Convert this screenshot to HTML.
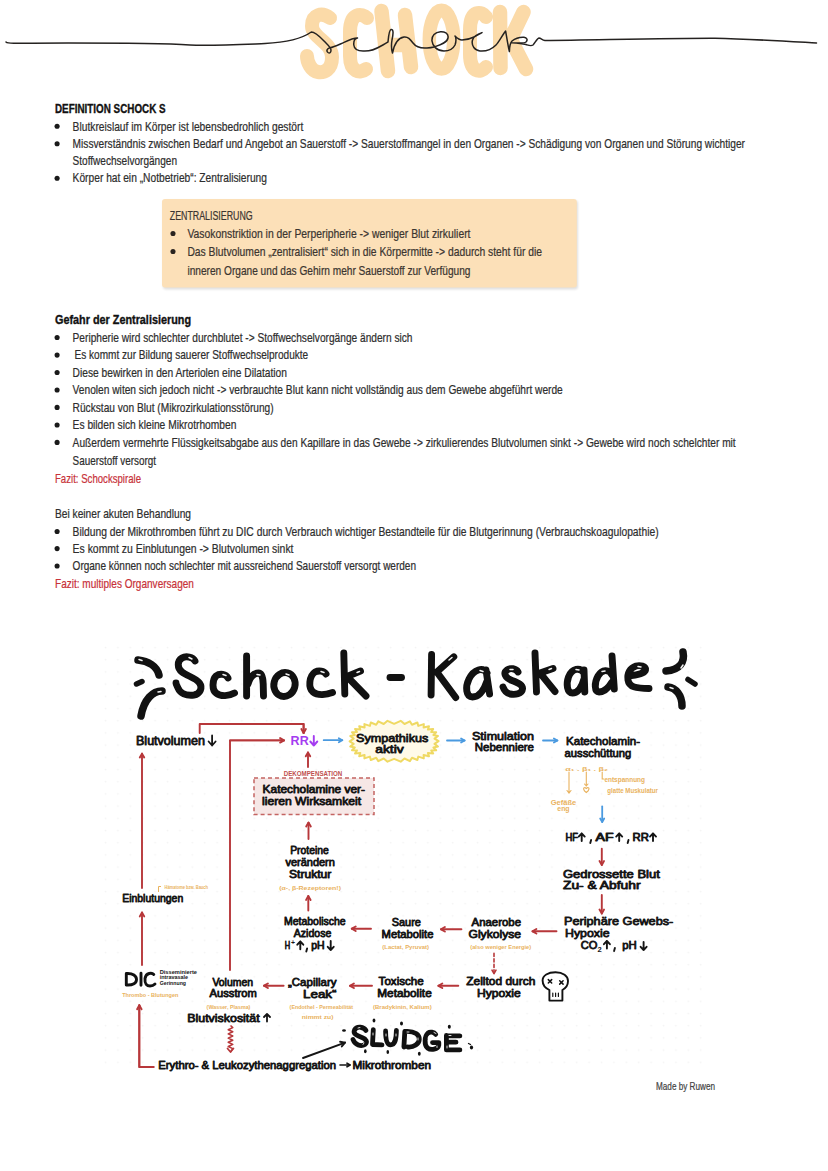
<!DOCTYPE html>
<html><head><meta charset="utf-8"><title>Schock</title>
<style>html,body{margin:0;padding:0;background:#fff;}svg{display:block;}text{font-family:"Liberation Sans", sans-serif;}</style>
</head><body>
<svg width="828" height="1171" viewBox="0 0 828 1171">
<rect width="828" height="1171" fill="#fff"/>

<g fill="none" stroke="#FBDAA8" stroke-linecap="round" stroke-linejoin="round">
 <path stroke-width="14" d="M330 18 C322 12 312 14 312 26 C312 38 332 42 332 57 C332 70 324 73 318 72 C311 71 307 62 307 56"/>
 <path stroke-width="14" d="M367 18 C362 13 350 12 350 32 L350 56 C350 72 360 74 366 69"/>
 <path stroke-width="14.5" d="M381.5 11 L388 71 M405 15 L411 67 M385 45 L408 45"/>
 <ellipse stroke-width="13.5" cx="441.5" cy="39.6" rx="12.2" ry="29.3"/>
 <path stroke-width="14" d="M486 17 C482 11 470 9 470 30 L470 54 C470 72 480 74 486 67"/>
 <path stroke-width="14.5" d="M500 12 L500.5 68 M523.5 12 L510.5 39 L526 69"/>
</g>
<path fill="none" stroke="#252220" stroke-width="1.5" stroke-linecap="round" stroke-linejoin="round" d="M6 42 C7 43 9 43.3 15 43.2 C80 43 150 42.5 190 45 C210 46 240 44.5 265 43.5 C285 42.5 300 40 311.3 32 C316 32 321 38 326 43 C329 46 331 48 331 50 C331 53 329.5 53.5 328 52.5 C326 51 327 48.5 330 47.8 C334 47 339 44.5 344 42.4 C349 40 354 38 357.5 38 C355 38.5 353.5 41 353.8 45 C354.2 49 358 51 363 51 C369 51.5 376 49 381 46 C384 44.5 386 43 388 42 C388.5 37 389 30 391 29.5 C393.5 29 393.5 33 392 40 C391 46 391.5 50 392.5 53 C394 45 398 38 404 37 C408 36.5 410 39 413 43 C416 47 421 48.5 427 48 C430 47.8 432 47.5 434 47 C440 45 447 43 448 38 C449 33 444 31.5 440.5 31.7 C435 32 431.5 36 432 41 C432.5 46 437 51 444 51 C449 51 453 49 455 45 C456.5 41 456 37 455 36 C457 38 459 40 462 40 C466 40 470 39 474 37 C478 35 481 33 482 32.6 C479 33.5 474 35 472.5 40 C471 46 475 50.5 480 51 C486 51.5 492 49 496 45 C499 42 503 34 505.6 31 C506.5 36 508 46 509.4 51.6 C509.5 47 510 43 512 41 C515 38.5 520 37 524 37.2 C527 37.5 528 40 526 42 C524 43.5 516 43 512 42.7 C517 43 522 43.5 526 44.5 C529 45.5 531 46.5 533 45 C535 43 537 38.5 539 38 C541 38 542 40 545 40.5 C600 39.8 680 38 715 38.2 C750 39 790 41.5 816.5 43"/>

<text x="55" y="112.8" font-size="12.4" font-weight="bold" fill="#111" stroke="#111" stroke-width="0.35" textLength="110.6" lengthAdjust="spacingAndGlyphs">DEFINITION SCHOCK S</text>
<circle cx="57.1" cy="126.3" r="2.55" fill="#1a1a1a"/>
<text x="72.6" y="130.5" font-size="12.6" fill="#2e2e2e" stroke="#2e2e2e" stroke-width="0.22" textLength="230.7" lengthAdjust="spacingAndGlyphs">Blutkreislauf im Körper ist lebensbedrohlich gestört</text>
<circle cx="57.1" cy="143.8" r="2.55" fill="#1a1a1a"/>
<text x="72.6" y="148" font-size="12.6" fill="#2e2e2e" stroke="#2e2e2e" stroke-width="0.22" textLength="672.4" lengthAdjust="spacingAndGlyphs">Missverständnis zwischen Bedarf und Angebot an Sauerstoff -&gt; Sauerstoffmangel in den Organen -&gt; Schädigung von Organen und Störung wichtiger</text>
<text x="72.6" y="165.2" font-size="12.6" fill="#2e2e2e" stroke="#2e2e2e" stroke-width="0.22" textLength="104.4" lengthAdjust="spacingAndGlyphs">Stoffwechselvorgängen</text>
<circle cx="57.1" cy="178.2" r="2.55" fill="#1a1a1a"/>
<text x="72.6" y="182.4" font-size="12.6" fill="#2e2e2e" stroke="#2e2e2e" stroke-width="0.22" textLength="194.4" lengthAdjust="spacingAndGlyphs">Körper hat ein „Notbetrieb“: Zentralisierung</text>
<defs><filter id="sh" x="-5%" y="-10%" width="110%" height="130%"><feGaussianBlur stdDeviation="1.2"/></filter></defs>
<rect x="163" y="200.5" width="415" height="89" rx="3" fill="#000" opacity="0.12" filter="url(#sh)"/>
<rect x="162" y="199" width="414.8" height="88.5" rx="3" fill="#FCE0B8"/>
<text x="169.8" y="219.5" font-size="12.6" fill="#3b3530" stroke="#3b3530" stroke-width="0.22" textLength="82.9" lengthAdjust="spacingAndGlyphs">ZENTRALISIERUNG</text>
<circle cx="173" cy="233.5" r="2.55" fill="#2a2420"/>
<text x="187.4" y="237.6" font-size="12.6" fill="#3b3530" stroke="#3b3530" stroke-width="0.22" textLength="283.1" lengthAdjust="spacingAndGlyphs">Vasokonstriktion in der Perperipherie -&gt; weniger Blut zirkuliert</text>
<circle cx="173" cy="251.5" r="2.55" fill="#2a2420"/>
<text x="187.4" y="255.7" font-size="12.6" fill="#3b3530" stroke="#3b3530" stroke-width="0.22" textLength="354.6" lengthAdjust="spacingAndGlyphs">Das Blutvolumen „zentralisiert“ sich in die Körpermitte -&gt; dadurch steht für die</text>
<text x="187.4" y="275" font-size="12.6" fill="#3b3530" stroke="#3b3530" stroke-width="0.22" textLength="283.1" lengthAdjust="spacingAndGlyphs">inneren Organe und das Gehirn mehr Sauerstoff zur Verfügung</text>
<text x="55" y="323.8" font-size="12.4" font-weight="bold" fill="#111" stroke="#111" stroke-width="0.35" textLength="136.0" lengthAdjust="spacingAndGlyphs">Gefahr der Zentralisierung</text>
<circle cx="57.1" cy="337.5" r="2.55" fill="#1a1a1a"/>
<text x="72.6" y="341.7" font-size="12.6" fill="#2e2e2e" stroke="#2e2e2e" stroke-width="0.22" textLength="339.9" lengthAdjust="spacingAndGlyphs">Peripherie wird schlechter durchblutet -&gt; Stoffwechselvorgänge ändern sich</text>
<circle cx="57.1" cy="355.1" r="2.55" fill="#1a1a1a"/>
<text x="74.5" y="359.3" font-size="12.6" fill="#2e2e2e" stroke="#2e2e2e" stroke-width="0.22" textLength="233.7" lengthAdjust="spacingAndGlyphs">Es kommt zur Bildung sauerer Stoffwechselprodukte</text>
<circle cx="57.1" cy="372.5" r="2.55" fill="#1a1a1a"/>
<text x="72.6" y="376.7" font-size="12.6" fill="#2e2e2e" stroke="#2e2e2e" stroke-width="0.22" textLength="214.3" lengthAdjust="spacingAndGlyphs">Diese bewirken in den Arteriolen eine Dilatation</text>
<circle cx="57.1" cy="390.0" r="2.55" fill="#1a1a1a"/>
<text x="72.6" y="394.2" font-size="12.6" fill="#2e2e2e" stroke="#2e2e2e" stroke-width="0.22" textLength="490.2" lengthAdjust="spacingAndGlyphs">Venolen witen sich jedoch nicht -&gt; verbrauchte Blut kann nicht vollständig aus dem Gewebe abgeführt werde</text>
<circle cx="57.1" cy="407.40000000000003" r="2.55" fill="#1a1a1a"/>
<text x="72.6" y="411.6" font-size="12.6" fill="#2e2e2e" stroke="#2e2e2e" stroke-width="0.22" textLength="201.0" lengthAdjust="spacingAndGlyphs">Rückstau von Blut (Mikrozirkulationsstörung)</text>
<circle cx="57.1" cy="425.0" r="2.55" fill="#1a1a1a"/>
<text x="72.6" y="429.2" font-size="12.6" fill="#2e2e2e" stroke="#2e2e2e" stroke-width="0.22" textLength="163.8" lengthAdjust="spacingAndGlyphs">Es bilden sich kleine Mikrotrhomben</text>
<circle cx="57.1" cy="442.40000000000003" r="2.55" fill="#1a1a1a"/>
<text x="72.6" y="446.6" font-size="12.6" fill="#2e2e2e" stroke="#2e2e2e" stroke-width="0.22" textLength="663.1" lengthAdjust="spacingAndGlyphs">Außerdem vermehrte Flüssigkeitsabgabe aus den Kapillare in das Gewebe -&gt; zirkulierendes Blutvolumen sinkt -&gt; Gewebe wird noch schelchter mit</text>
<text x="72.6" y="464.7" font-size="12.6" fill="#2e2e2e" stroke="#2e2e2e" stroke-width="0.22" textLength="83.4" lengthAdjust="spacingAndGlyphs">Sauerstoff versorgt</text>
<text x="55" y="483.3" font-size="12.6" fill="#c8323a" stroke="#c8323a" stroke-width="0.22" textLength="86.0" lengthAdjust="spacingAndGlyphs">Fazit: Schockspirale</text>
<text x="55" y="517.8" font-size="12.6" fill="#2e2e2e" stroke="#2e2e2e" stroke-width="0.22" textLength="136.0" lengthAdjust="spacingAndGlyphs">Bei keiner akuten Behandlung</text>
<circle cx="57.1" cy="531.5" r="2.55" fill="#1a1a1a"/>
<text x="72.6" y="535.7" font-size="12.6" fill="#2e2e2e" stroke="#2e2e2e" stroke-width="0.22" textLength="586.0" lengthAdjust="spacingAndGlyphs">Bildung der Mikrothromben führt zu DIC durch Verbrauch wichtiger Bestandteile für die Blutgerinnung (Verbrauchskoagulopathie)</text>
<circle cx="57.1" cy="548.5999999999999" r="2.55" fill="#1a1a1a"/>
<text x="72.6" y="552.8" font-size="12.6" fill="#2e2e2e" stroke="#2e2e2e" stroke-width="0.22" textLength="220.9" lengthAdjust="spacingAndGlyphs">Es kommt zu Einblutungen -&gt; Blutvolumen sinkt</text>
<circle cx="57.1" cy="566.0" r="2.55" fill="#1a1a1a"/>
<text x="72.6" y="570.2" font-size="12.6" fill="#2e2e2e" stroke="#2e2e2e" stroke-width="0.22" textLength="343.4" lengthAdjust="spacingAndGlyphs">Organe können noch schlechter mit aussreichend Sauerstoff versorgt werden</text>
<text x="55" y="587.9" font-size="12.6" fill="#c8323a" stroke="#c8323a" stroke-width="0.22" textLength="138.9" lengthAdjust="spacingAndGlyphs">Fazit: multiples Organversagen</text>
<text x="656" y="1089.6" font-size="10.6" fill="#444" stroke="#444" stroke-width="0.22" textLength="59.0" lengthAdjust="spacingAndGlyphs">Made by Ruwen</text>
<defs><pattern id="dg" x="104" y="646" width="12.4" height="12.2" patternUnits="userSpaceOnUse"><circle cx="1.5" cy="1.5" r="0.9" fill="#f3f3f3"/></pattern></defs>
<rect x="104" y="646" width="598" height="426" fill="url(#dg)"/>
<g fill="none" stroke="#111" stroke-width="6.9" stroke-linecap="round" stroke-linejoin="round"><path d="M195 661 C193 657 186 655.5 182 658 C177 661 177 668 182 672 C187 676 196 678 199.5 683 C203 688 200 694 194 695 C186 696 180 693 178 688 C177 686 176 684 176 683"/><path d="M228 678 C226 674 220 673 216 676 C212 680 212 690 216 693 C221 697 229 696 234.5 693"/><path d="M246.6 656 L246.6 696 M248 684 C250 677 254 673 258.5 673 C262 673 263 678 263.2 684 L263.5 696"/><ellipse cx="284.5" cy="684.5" rx="10.6" ry="12" transform="rotate(15 284.5 684.5)"/><path d="M326 674 C324 671 319 670 315 672 C309 676 308 688 313 692 C318 696 327 694.5 332.5 692.5"/><path d="M343.8 653 L344.8 694 M360.5 671 L347 676.5 L366 696"/><path d="M390 677.5 L401.5 677.5"/><path d="M431.6 654.5 L431.1 695 M453.8 656.8 L436.8 672 L455.7 697.5"/><path d="M487 673 C483 667 474 669 469 679 C465 687 466 697 472.5 697 C479 697 484 690 487 681 M486 670 L489.6 694"/><path d="M518 672 C516 668.5 510 667.5 507 670 C503 673 505 678 512 680.5 C519 683 523 685 522.5 689 C522 694 515 695 510 694 C506 693 504 690 503 687"/><path d="M535 653 L536.5 692 M553 668.5 L540 673 L555 691.5"/><path d="M584 673 C580 667 572 668 568.5 677 C566 684 567 693 572.5 693 C578 693 582 686 584 679 M584 670 L584.8 692"/><path d="M612 656 L614.3 689 M612 675 C609 669 602 669 598 676 C594 683 594.5 692 599 692 C604 692 609 687 612 682"/><path d="M631.5 675.5 C637 675 645 673 645.5 670 C646 666 640 665 636 666 C630 668 627 673 628 680 C629 687 636 688.5 649 688.5"/></g>
<g fill="none" stroke="#111" stroke-linecap="round"><path d="M138 660 C148 661 157 666 159 675" stroke-width="7.5"/><path d="M136.5 684 L142 681.5" stroke-width="5.5"/><path d="M162 691 C153 691 144 699 141 716" stroke-width="7.5"/><path d="M683 652 C685 662 680 670 666 671" stroke-width="7.5"/><path d="M688 679.5 L695 684" stroke-width="5.5"/><path d="M668 687 C676 688 682 695 682 706" stroke-width="7.5"/></g>
<g fill="none" stroke="#fff" stroke-width="1.5" stroke-linecap="round" opacity="0.95"><path d="M139 659.5 L142 660.5"/><path d="M189 657.5 L192 659"/><path d="M223 674.5 L226 675.5"/><path d="M257 674.5 L260 675"/><path d="M286 674 L289 675"/><path d="M321 671.5 L324 672.5"/><path d="M357 672.5 L359.5 671.5"/><path d="M449 660 L452 657.5"/><path d="M480 670.5 L483 671.5"/><path d="M510 669.5 L513 669.5"/><path d="M549 669.5 L551.5 668.5"/><path d="M576 669.5 L579 670"/><path d="M602 671.5 L605 671"/><path d="M638 666.5 L641 667"/><path d="M681 668 L683 665"/><path d="M158 692 L161 691.5"/><path d="M670 687.5 L673 688.5"/></g>
<text x="136" y="745.2" font-size="11.96" stroke="#151515" stroke-width="0.8" stroke-linejoin="round" fill="#151515" textLength="68.9" lengthAdjust="spacingAndGlyphs">Blutvolumen</text>
<path d="M212.1 735.5 L212.1 745.5 M208.6 741.5 L212.1 745.5 L215.6 741.5" stroke="#151515" stroke-width="1.8" fill="none" stroke-linecap="round" stroke-linejoin="round"/>
<text x="290.6" y="745" font-size="12.50" font-weight="bold" fill="#A43CF0" textLength="18.1" lengthAdjust="spacingAndGlyphs">RR</text>
<path d="M313.8 736 L313.8 745.5 M310.3 741.5 L313.8 745.5 L317.3 741.5" stroke="#A43CF0" stroke-width="1.9" fill="none" stroke-linecap="round" stroke-linejoin="round"/>
<path d="M199.7 733 L199.7 724 L303.6 724 L303.6 733" stroke="#B7373A" stroke-width="1.9" fill="none" stroke-linejoin="round" stroke-linecap="round"/>
<path d="M303.6 724.0 L303.6 733.0" stroke="#B7373A" stroke-width="1.9" fill="none" stroke-linecap="round"/>
<path d="M301.4 729.1 L303.6 733.0 L305.9 729.1" stroke="#B7373A" stroke-width="1.9" fill="none" stroke-linecap="round" stroke-linejoin="round"/>
<path d="M230 970 L230 740.4 L284 740.4" stroke="#B7373A" stroke-width="1.9" fill="none" stroke-linejoin="round" stroke-linecap="round"/>
<path d="M230.0 740.4 L284.0 740.4" stroke="#B7373A" stroke-width="1.9" fill="none" stroke-linecap="round"/>
<path d="M280.1 742.6 L284.0 740.4 L280.1 738.1" stroke="#B7373A" stroke-width="1.9" fill="none" stroke-linecap="round" stroke-linejoin="round"/>
<path d="M142.0 888.0 L142.0 753.6" stroke="#B7373A" stroke-width="1.9" fill="none" stroke-linecap="round"/>
<path d="M144.2 757.5 L142.0 753.6 L139.8 757.5" stroke="#B7373A" stroke-width="1.9" fill="none" stroke-linecap="round" stroke-linejoin="round"/>
<path d="M308.0 767.0 L308.0 752.4" stroke="#B7373A" stroke-width="1.9" fill="none" stroke-linecap="round"/>
<path d="M310.2 756.3 L308.0 752.4 L305.8 756.3" stroke="#B7373A" stroke-width="1.9" fill="none" stroke-linecap="round" stroke-linejoin="round"/>
<path d="M323.7 740.2 L342.3 740.2" stroke="#4A9AE0" stroke-width="1.8" fill="none" stroke-linecap="round"/>
<path d="M338.8 742.2 L342.3 740.2 L338.8 738.2" stroke="#4A9AE0" stroke-width="1.8" fill="none" stroke-linecap="round" stroke-linejoin="round"/>
<path d="M447.0 740.5 L464.6 740.5" stroke="#4A9AE0" stroke-width="1.8" fill="none" stroke-linecap="round"/>
<path d="M461.1 742.5 L464.6 740.5 L461.1 738.5" stroke="#4A9AE0" stroke-width="1.8" fill="none" stroke-linecap="round" stroke-linejoin="round"/>
<path d="M543.0 740.5 L557.4 740.5" stroke="#4A9AE0" stroke-width="1.8" fill="none" stroke-linecap="round"/>
<path d="M553.9 742.5 L557.4 740.5 L553.9 738.5" stroke="#4A9AE0" stroke-width="1.8" fill="none" stroke-linecap="round" stroke-linejoin="round"/>
<path d="M438.6 741.2 L434.5 743.9 L438.0 746.5 L433.4 747.5 L436.2 750.3 L431.2 750.4 L433.2 753.5 L427.9 752.9 L429.0 756.2 L423.6 755.0 L423.8 758.4 L418.3 756.6 L417.4 760.0 L412.0 757.8 L409.9 761.1 L404.5 758.5 L400.7 761.7 L394.1 758.8 L387.5 761.7 L383.7 758.5 L378.3 761.1 L376.2 757.8 L370.8 760.0 L369.9 756.6 L364.4 758.4 L364.6 755.0 L359.2 756.2 L360.3 752.9 L355.0 753.5 L357.0 750.4 L352.0 750.3 L354.8 747.5 L350.2 746.5 L353.7 743.9 L349.6 741.3 L353.7 738.6 L350.2 736.0 L354.8 735.0 L352.0 732.2 L357.0 732.1 L355.0 729.0 L360.3 729.6 L359.2 726.3 L364.6 727.5 L364.4 724.1 L369.9 725.9 L370.8 722.5 L376.2 724.7 L378.3 721.4 L383.7 724.0 L387.5 720.8 L394.1 723.8 L400.7 720.8 L404.5 724.0 L409.9 721.4 L412.0 724.7 L417.4 722.5 L418.3 725.9 L423.8 724.1 L423.6 727.5 L429.0 726.3 L427.9 729.6 L433.2 729.0 L431.2 732.1 L436.2 732.2 L433.4 735.0 L438.0 736.0 L434.5 738.6Z" fill="#FFFAE8" stroke="#EFD963" stroke-width="2" stroke-linejoin="round"/>
<text x="356" y="742" font-size="11.50" stroke="#151515" stroke-width="0.8" stroke-linejoin="round" fill="#151515" textLength="72.3" lengthAdjust="spacingAndGlyphs">Sympathikus</text>
<text x="375.2" y="753.2" font-size="11.50" stroke="#151515" stroke-width="0.8" stroke-linejoin="round" fill="#151515" textLength="28.6" lengthAdjust="spacingAndGlyphs">aktiv</text>
<text x="472" y="739.6" font-size="11.50" stroke="#151515" stroke-width="0.8" stroke-linejoin="round" fill="#151515" textLength="62.0" lengthAdjust="spacingAndGlyphs">Stimulation</text>
<text x="474.8" y="751" font-size="11.50" stroke="#151515" stroke-width="0.8" stroke-linejoin="round" fill="#151515" textLength="59.2" lengthAdjust="spacingAndGlyphs">Nebenniere</text>
<text x="566" y="745.4" font-size="11.50" stroke="#151515" stroke-width="0.8" stroke-linejoin="round" fill="#151515" textLength="74.0" lengthAdjust="spacingAndGlyphs">Katecholamin-</text>
<text x="564.6" y="757" font-size="11.50" stroke="#151515" stroke-width="0.8" stroke-linejoin="round" fill="#151515" textLength="66.7" lengthAdjust="spacingAndGlyphs">ausschüttung</text>
<text x="565.3" y="770.5" font-size="6.00" font-weight="bold" fill="#E9B25E" textLength="42.7" lengthAdjust="spacingAndGlyphs">α₁ . β₁ . β₂</text>
<g stroke="#E9B25E" stroke-width="1.1" fill="none" stroke-linecap="round"><path d="M569 772 L569 793 M567 790.5 L569 793 L571 790.5"/><path d="M586.3 772 L586.3 786 M584.5 784 L586.3 786 L588 784"/><path d="M586.3 792.5 C583 790 583 787.5 585 787.5 L586.3 788.5 L587.6 787.5 C589.6 787.5 589.6 790 586.3 792.5Z"/><path d="M602.2 772 L602.2 779 L604 779"/></g>
<text x="604.4" y="781.5" font-size="6.50" font-weight="bold" fill="#E9B25E" textLength="40.6" lengthAdjust="spacingAndGlyphs">entspannung</text>
<text x="607.3" y="793.3" font-size="6.50" font-weight="bold" fill="#E9B25E" textLength="50.7" lengthAdjust="spacingAndGlyphs">glatte Muskulatur</text>
<text x="550.8" y="805" font-size="6.50" font-weight="bold" fill="#E9B25E" textLength="25.4" lengthAdjust="spacingAndGlyphs">Gefäße</text>
<text x="557.3" y="811" font-size="6.50" font-weight="bold" fill="#E9B25E" textLength="12.3" lengthAdjust="spacingAndGlyphs">eng</text>
<path d="M602.2 806.4 L602.2 822.0" stroke="#4A9AE0" stroke-width="1.8" fill="none" stroke-linecap="round"/>
<path d="M600.2 818.5 L602.2 822.0 L604.2 818.5" stroke="#4A9AE0" stroke-width="1.8" fill="none" stroke-linecap="round" stroke-linejoin="round"/>
<rect x="254" y="778" width="120" height="36.6" fill="#F6E7E6" stroke="#C46462" stroke-width="1.5" stroke-dasharray="4 3"/>
<text x="283.8" y="775.8" font-size="6.50" font-weight="bold" fill="#C0504E" textLength="58.5" lengthAdjust="spacingAndGlyphs">DEKOMPENSATION</text>
<text x="262.6" y="793.4" font-size="11.04" stroke="#151515" stroke-width="0.8" stroke-linejoin="round" fill="#151515" textLength="102.4" lengthAdjust="spacingAndGlyphs">Katecholamine ver-</text>
<text x="262" y="805.2" font-size="11.04" stroke="#151515" stroke-width="0.8" stroke-linejoin="round" fill="#151515" textLength="99.0" lengthAdjust="spacingAndGlyphs">lieren Wirksamkeit</text>
<path d="M308.5 839.0 L308.5 822.6" stroke="#B7373A" stroke-width="1.9" fill="none" stroke-linecap="round"/>
<path d="M310.8 826.5 L308.5 822.6 L306.2 826.5" stroke="#B7373A" stroke-width="1.9" fill="none" stroke-linecap="round" stroke-linejoin="round"/>
<text x="290.2" y="853.8" font-size="11.04" stroke="#151515" stroke-width="0.8" stroke-linejoin="round" fill="#151515" textLength="38.6" lengthAdjust="spacingAndGlyphs">Proteine</text>
<text x="285.4" y="865.9" font-size="11.04" stroke="#151515" stroke-width="0.8" stroke-linejoin="round" fill="#151515" textLength="49.5" lengthAdjust="spacingAndGlyphs">verändern</text>
<text x="289" y="878" font-size="11.04" stroke="#151515" stroke-width="0.8" stroke-linejoin="round" fill="#151515" textLength="42.3" lengthAdjust="spacingAndGlyphs">Struktur</text>
<text x="279.3" y="889.5" font-size="6.00" font-weight="bold" fill="#E9B25E" textLength="61.7" lengthAdjust="spacingAndGlyphs">(α-, β-Rezeptoren!)</text>
<path d="M308.3 910.6 L308.3 896.0" stroke="#B7373A" stroke-width="1.9" fill="none" stroke-linecap="round"/>
<path d="M310.6 899.9 L308.3 896.0 L306.1 899.9" stroke="#B7373A" stroke-width="1.9" fill="none" stroke-linecap="round" stroke-linejoin="round"/>
<text x="565.4" y="840.7" font-size="10.12" stroke="#151515" stroke-width="0.8" stroke-linejoin="round" fill="#151515" textLength="12.6" lengthAdjust="spacingAndGlyphs">HF</text>
<text x="595.6" y="840.7" font-size="10.12" stroke="#151515" stroke-width="0.8" stroke-linejoin="round" fill="#151515" textLength="18.1" lengthAdjust="spacingAndGlyphs">AF</text>
<text x="632.5" y="840.7" font-size="10.12" stroke="#151515" stroke-width="0.8" stroke-linejoin="round" fill="#151515" textLength="16.3" lengthAdjust="spacingAndGlyphs">RR</text>
<path d="M581.7 841 L581.7 833.4 M578.7 836.6 L581.7 833.4 L584.7 836.6" stroke="#151515" stroke-width="1.9" fill="none" stroke-linecap="round" stroke-linejoin="round"/>
<path d="M619.2 841 L619.2 833.4 M616.2 836.6 L619.2 833.4 L622.2 836.6" stroke="#151515" stroke-width="1.9" fill="none" stroke-linecap="round" stroke-linejoin="round"/>
<path d="M653 841 L653 833.4 M650 836.6 L653 833.4 L656 836.6" stroke="#151515" stroke-width="1.9" fill="none" stroke-linecap="round" stroke-linejoin="round"/>
<path d="M591.0999999999999 840 L590.3 843" stroke="#151515" stroke-width="1.9" stroke-linecap="round"/>
<path d="M628.5 840 L627.7 843" stroke="#151515" stroke-width="1.9" stroke-linecap="round"/>
<path d="M601.8 848.8 L601.8 865.0" stroke="#B7373A" stroke-width="1.9" fill="none" stroke-linecap="round"/>
<path d="M599.5 861.1 L601.8 865.0 L604.0 861.1" stroke="#B7373A" stroke-width="1.9" fill="none" stroke-linecap="round" stroke-linejoin="round"/>
<text x="563" y="877.8" font-size="11.04" stroke="#151515" stroke-width="0.8" stroke-linejoin="round" fill="#151515" textLength="96.8" lengthAdjust="spacingAndGlyphs">Gedrossette Blut</text>
<text x="563" y="889.4" font-size="11.04" stroke="#151515" stroke-width="0.8" stroke-linejoin="round" fill="#151515" textLength="77.5" lengthAdjust="spacingAndGlyphs">Zu- &amp; Abfuhr</text>
<path d="M601.8 895.0 L601.8 913.5" stroke="#B7373A" stroke-width="1.9" fill="none" stroke-linecap="round"/>
<path d="M599.5 909.6 L601.8 913.5 L604.0 909.6" stroke="#B7373A" stroke-width="1.9" fill="none" stroke-linecap="round" stroke-linejoin="round"/>
<text x="564" y="925" font-size="11.50" stroke="#151515" stroke-width="0.8" stroke-linejoin="round" fill="#151515" textLength="109.3" lengthAdjust="spacingAndGlyphs">Periphäre Gewebs-</text>
<text x="565" y="936.7" font-size="11.50" stroke="#151515" stroke-width="0.8" stroke-linejoin="round" fill="#151515" textLength="44.6" lengthAdjust="spacingAndGlyphs">Hypoxie</text>
<text x="580.8" y="948.6" font-size="10.58" stroke="#151515" stroke-width="0.8" stroke-linejoin="round" fill="#151515" textLength="16.7" lengthAdjust="spacingAndGlyphs">CO</text>
<text x="597.4" y="952" font-size="6.50" font-weight="bold" fill="#151515" textLength="4.2" lengthAdjust="spacingAndGlyphs">2</text>
<path d="M606.9 948.6 L606.9 941 M603.9 944.2 L606.9 941 L609.9 944.2" stroke="#151515" stroke-width="1.9" fill="none" stroke-linecap="round" stroke-linejoin="round"/>
<path d="M614.9 948 L614.1 951" stroke="#151515" stroke-width="1.9" stroke-linecap="round"/>
<text x="622.3" y="948.6" font-size="10.58" stroke="#151515" stroke-width="0.8" stroke-linejoin="round" fill="#151515" textLength="14.5" lengthAdjust="spacingAndGlyphs">pH</text>
<path d="M643.6 942 L643.6 950 M640.6 946.8 L643.6 950 L646.6 946.8" stroke="#151515" stroke-width="1.9" fill="none" stroke-linecap="round" stroke-linejoin="round"/>
<path d="M556.5 931.3 L532.5 931.3" stroke="#B7373A" stroke-width="1.9" fill="none" stroke-linecap="round"/>
<path d="M536.4 929.0 L532.5 931.3 L536.4 933.5" stroke="#B7373A" stroke-width="1.9" fill="none" stroke-linecap="round" stroke-linejoin="round"/>
<text x="471.6" y="925.5" font-size="11.04" stroke="#151515" stroke-width="0.8" stroke-linejoin="round" fill="#151515" textLength="49.4" lengthAdjust="spacingAndGlyphs">Anaerobe</text>
<text x="468.5" y="938.2" font-size="11.04" stroke="#151515" stroke-width="0.8" stroke-linejoin="round" fill="#151515" textLength="52.5" lengthAdjust="spacingAndGlyphs">Glykolyse</text>
<text x="470.3" y="949" font-size="6.00" font-weight="bold" fill="#E9B25E" textLength="60.9" lengthAdjust="spacingAndGlyphs">(also weniger Energie)</text>
<path d="M461.4 929.3 L441.0 929.3" stroke="#B7373A" stroke-width="1.9" fill="none" stroke-linecap="round"/>
<path d="M444.9 927.0 L441.0 929.3 L444.9 931.5" stroke="#B7373A" stroke-width="1.9" fill="none" stroke-linecap="round" stroke-linejoin="round"/>
<text x="391.7" y="925.5" font-size="11.04" stroke="#151515" stroke-width="0.8" stroke-linejoin="round" fill="#151515" textLength="29.2" lengthAdjust="spacingAndGlyphs">Saure</text>
<text x="381.6" y="937.7" font-size="11.04" stroke="#151515" stroke-width="0.8" stroke-linejoin="round" fill="#151515" textLength="51.9" lengthAdjust="spacingAndGlyphs">Metabolite</text>
<text x="382.3" y="949" font-size="6.00" font-weight="bold" fill="#E9B25E" textLength="46.7" lengthAdjust="spacingAndGlyphs">(Lactat, Pyruvat)</text>
<path d="M371.0 928.7 L351.8 928.7" stroke="#B7373A" stroke-width="1.9" fill="none" stroke-linecap="round"/>
<path d="M355.7 926.5 L351.8 928.7 L355.7 931.0" stroke="#B7373A" stroke-width="1.9" fill="none" stroke-linecap="round" stroke-linejoin="round"/>
<text x="284" y="925" font-size="11.04" stroke="#151515" stroke-width="0.8" stroke-linejoin="round" fill="#151515" textLength="61.7" lengthAdjust="spacingAndGlyphs">Metabolische</text>
<text x="293.8" y="937" font-size="11.04" stroke="#151515" stroke-width="0.8" stroke-linejoin="round" fill="#151515" textLength="37.5" lengthAdjust="spacingAndGlyphs">Azidose</text>
<text x="284.7" y="949.2" font-size="10.12" stroke="#151515" stroke-width="0.8" stroke-linejoin="round" fill="#151515" textLength="5.4" lengthAdjust="spacingAndGlyphs">H</text>
<text x="291" y="945" font-size="6.50" font-weight="bold" fill="#151515" textLength="4.0" lengthAdjust="spacingAndGlyphs">+</text>
<path d="M300.3 949.2 L300.3 941.5 M297.3 944.7 L300.3 941.5 L303.3 944.7" stroke="#151515" stroke-width="1.9" fill="none" stroke-linecap="round" stroke-linejoin="round"/>
<path d="M307.1 948.5 L306.3 951.5" stroke="#151515" stroke-width="1.9" stroke-linecap="round"/>
<text x="311.2" y="949.2" font-size="10.12" stroke="#151515" stroke-width="0.8" stroke-linejoin="round" fill="#151515" textLength="13.4" lengthAdjust="spacingAndGlyphs">pH</text>
<path d="M330.7 941 L330.7 950 M327.7 946.8 L330.7 950 L333.7 946.8" stroke="#151515" stroke-width="1.9" fill="none" stroke-linecap="round" stroke-linejoin="round"/>
<text x="122.2" y="901.6" font-size="11.04" stroke="#151515" stroke-width="0.8" stroke-linejoin="round" fill="#151515" textLength="61.0" lengthAdjust="spacingAndGlyphs">Einblutungen</text>
<path d="M158.5 892 L158.5 886.5 L161 886.5" stroke="#E9B25E" stroke-width="1" fill="none"/>
<text x="164.5" y="889" font-size="6.00" font-weight="bold" fill="#E9B25E" textLength="43.5" lengthAdjust="spacingAndGlyphs">Hämatome bzw. Bauch</text>
<path d="M142.0 965.0 L142.0 912.5" stroke="#B7373A" stroke-width="1.9" fill="none" stroke-linecap="round"/>
<path d="M144.2 916.4 L142.0 912.5 L139.8 916.4" stroke="#B7373A" stroke-width="1.9" fill="none" stroke-linecap="round" stroke-linejoin="round"/>
<path d="M126.3 973.5 L126.3 985 M126.3 973.5 C133 973 136.5 976 136.5 979.5 C136.5 983 133 985.5 126.3 985 M141 973.3 L141 985.2 M153.8 974.5 C152 972.5 146 972.5 145 978.5 C144.5 984 147 986 150 986 C152 986 154 985 155 984" stroke="#111" stroke-width="2.9" fill="none" stroke-linecap="round" stroke-linejoin="round"/>
<text x="159.7" y="973.5" font-size="5.50" font-weight="bold" fill="#151515" textLength="37.3" lengthAdjust="spacingAndGlyphs">Disseminierte</text>
<text x="159.7" y="979" font-size="5.50" font-weight="bold" fill="#151515" textLength="28.3" lengthAdjust="spacingAndGlyphs">intravasale</text>
<text x="159.7" y="984.5" font-size="5.50" font-weight="bold" fill="#151515" textLength="26.3" lengthAdjust="spacingAndGlyphs">Gerinnung</text>
<text x="122.2" y="997" font-size="6.00" font-weight="bold" fill="#E9B25E" textLength="56.2" lengthAdjust="spacingAndGlyphs">Thrombo - Blutungen</text>
<text x="212.4" y="986" font-size="11.04" stroke="#151515" stroke-width="0.8" stroke-linejoin="round" fill="#151515" textLength="40.6" lengthAdjust="spacingAndGlyphs">Volumen</text>
<text x="209.6" y="996.8" font-size="11.04" stroke="#151515" stroke-width="0.8" stroke-linejoin="round" fill="#151515" textLength="47.1" lengthAdjust="spacingAndGlyphs">Ausstrom</text>
<text x="206.6" y="1008.8" font-size="6.00" font-weight="bold" fill="#E9B25E" textLength="43.8" lengthAdjust="spacingAndGlyphs">(Wasser, Plasma)</text>
<text x="187.2" y="1021.9" font-size="11.04" stroke="#151515" stroke-width="0.8" stroke-linejoin="round" fill="#151515" textLength="72.5" lengthAdjust="spacingAndGlyphs">Blutviskosität</text>
<path d="M267 1021.5 L267 1014 M264 1017 L267 1014 L270 1017" stroke="#151515" stroke-width="1.8" fill="none" stroke-linecap="round" stroke-linejoin="round"/>
<path d="M283.6 985.7 L264.0 985.7" stroke="#B7373A" stroke-width="1.9" fill="none" stroke-linecap="round"/>
<path d="M267.9 983.5 L264.0 985.7 L267.9 988.0" stroke="#B7373A" stroke-width="1.9" fill="none" stroke-linecap="round" stroke-linejoin="round"/>
<text x="288" y="985.7" font-size="11.04" stroke="#151515" stroke-width="0.8" stroke-linejoin="round" fill="#151515" textLength="48.5" lengthAdjust="spacingAndGlyphs">„Capillary</text>
<text x="303" y="997.7" font-size="11.04" stroke="#151515" stroke-width="0.8" stroke-linejoin="round" fill="#151515" textLength="33.5" lengthAdjust="spacingAndGlyphs">Leak“</text>
<text x="289.6" y="1008.8" font-size="6.00" font-weight="bold" fill="#E9B25E" textLength="63.4" lengthAdjust="spacingAndGlyphs">(Endothel - Permeabilität</text>
<text x="301.7" y="1019.4" font-size="6.00" font-weight="bold" fill="#E9B25E" textLength="31.7" lengthAdjust="spacingAndGlyphs">nimmt zu)</text>
<path d="M372.0 985.8 L350.0 985.8" stroke="#B7373A" stroke-width="1.9" fill="none" stroke-linecap="round"/>
<path d="M353.9 983.5 L350.0 985.8 L353.9 988.0" stroke="#B7373A" stroke-width="1.9" fill="none" stroke-linecap="round" stroke-linejoin="round"/>
<text x="378.6" y="985.2" font-size="11.04" stroke="#151515" stroke-width="0.8" stroke-linejoin="round" fill="#151515" textLength="45.2" lengthAdjust="spacingAndGlyphs">Toxische</text>
<text x="377.3" y="997.2" font-size="11.04" stroke="#151515" stroke-width="0.8" stroke-linejoin="round" fill="#151515" textLength="54.4" lengthAdjust="spacingAndGlyphs">Metabolite</text>
<text x="373" y="1008.5" font-size="6.00" font-weight="bold" fill="#E9B25E" textLength="58.7" lengthAdjust="spacingAndGlyphs">(Bradykinin, Kalium)</text>
<path d="M458.3 985.8 L438.4 985.8" stroke="#B7373A" stroke-width="1.9" fill="none" stroke-linecap="round"/>
<path d="M442.3 983.5 L438.4 985.8 L442.3 988.0" stroke="#B7373A" stroke-width="1.9" fill="none" stroke-linecap="round" stroke-linejoin="round"/>
<path d="M494.0 953.4 L494.0 973.7" stroke="#B7373A" stroke-width="1.6" fill="none" stroke-linecap="round" stroke-dasharray="3 2.5"/>
<path d="M492.0 970.2 L494.0 973.7 L496.0 970.2" stroke="#B7373A" stroke-width="1.6" fill="none" stroke-linecap="round" stroke-linejoin="round"/>
<text x="466.3" y="985.2" font-size="11.04" stroke="#151515" stroke-width="0.8" stroke-linejoin="round" fill="#151515" textLength="69.0" lengthAdjust="spacingAndGlyphs">Zelltod durch</text>
<text x="477" y="997.2" font-size="11.04" stroke="#151515" stroke-width="0.8" stroke-linejoin="round" fill="#151515" textLength="43.7" lengthAdjust="spacingAndGlyphs">Hypoxie</text>
<g stroke="#111" stroke-width="1.9" fill="none" stroke-linejoin="round" stroke-linecap="round"><path d="M549.4 990 C544 987.5 542.6 984 542.6 980.5 C542.6 975.5 548 972.3 555.5 972.3 C563 972.3 568 976 568 981 C568 985 566 988 562.4 990 L562.4 1000.6 L549.4 1000.6 Z"/><path d="M548.3 979.6 L551.7 983 M551.7 979.6 L548.3 983 M559.7 980.7 L563.1 984.1 M563.1 980.7 L559.7 984.1" stroke-width="1.5"/><path d="M552.8 993 L552.8 996.5 M555.6 993 L555.6 996.5 M558.4 993 L558.4 996.5" stroke-width="1.2"/></g>
<path d="M230.5 1025.5 L232.8 1027.6 L228.2 1029.7 L232.8 1031.8 L228.2 1033.9 L232.8 1036.0 L228.2 1038.1 L232.8 1040.2 L228.2 1042.3 L232.8 1044.4 L228.2 1046.5 L232.8 1048.6 L230.5 1052" stroke="#B7373A" stroke-width="1.5" fill="none" stroke-linejoin="round"/>
<path d="M227.5 1048.5 L230.5 1052 L233.5 1048.5" stroke="#B7373A" stroke-width="1.7" fill="none" stroke-linecap="round" stroke-linejoin="round"/>
<path d="M153.8 1067 L139.3 1067 L139.3 1005.3" stroke="#B7373A" stroke-width="1.9" fill="none" stroke-linejoin="round" stroke-linecap="round"/>
<path d="M139.3 1067.0 L139.3 1005.3" stroke="#B7373A" stroke-width="1.9" fill="none" stroke-linecap="round"/>
<path d="M141.6 1009.2 L139.3 1005.3 L137.1 1009.2" stroke="#B7373A" stroke-width="1.9" fill="none" stroke-linecap="round" stroke-linejoin="round"/>
<text x="158.3" y="1069" font-size="11.04" stroke="#151515" stroke-width="0.8" stroke-linejoin="round" fill="#151515" textLength="177.7" lengthAdjust="spacingAndGlyphs">Erythro- &amp; Leukozythenaggregation</text>
<path d="M340.0 1065.0 L350.0 1065.0" stroke="#151515" stroke-width="1.6" fill="none" stroke-linecap="round"/>
<path d="M347.0 1066.8 L350.0 1065.0 L347.0 1063.2" stroke="#151515" stroke-width="1.6" fill="none" stroke-linecap="round" stroke-linejoin="round"/>
<text x="352.5" y="1069.2" font-size="11.04" stroke="#151515" stroke-width="0.8" stroke-linejoin="round" fill="#151515" textLength="78.5" lengthAdjust="spacingAndGlyphs">Mikrothromben</text>
<path d="M303.0 1058.0 L345.0 1042.6" stroke="#151515" stroke-width="1.9" fill="none" stroke-linecap="round"/>
<path d="M341.8 1046.4 L345.0 1042.6 L340.1 1041.7" stroke="#151515" stroke-width="1.9" fill="none" stroke-linecap="round" stroke-linejoin="round"/>
<g fill="none" stroke="#111" stroke-width="4.8" stroke-linecap="round" stroke-linejoin="round"><path d="M366 1030.5 C364 1027 357 1025.5 354.5 1030 C352.5 1034 358 1036 362 1037.5 C366 1039 368 1042 365 1044.5 C361 1047 355 1045 353 1039.5"/><path d="M373.3 1029.6 L372.5 1044.5 L382 1044.8"/><path d="M385.6 1031 C385.6 1037 386 1044.8 390.5 1044.8 C395 1044.8 396.2 1040 396.4 1030.3"/><path d="M404.8 1031.5 L403.9 1047 M405.8 1031.5 C415 1031 419.5 1035 419.3 1039.3 C419 1044 414 1047.5 407.7 1047"/><path d="M435.7 1034.4 C434 1032 430 1031.5 428 1033 C424.5 1036 424 1045 427.5 1048 C431 1050.5 438 1049.5 438.8 1045 L438.8 1042.6 L432.5 1042.6"/><path d="M446.4 1035.4 L446.4 1049.9 M446.4 1035.6 L459.9 1035.9 M446.4 1042.2 L456 1042.2 M446.4 1049.9 L459.9 1049.9"/></g>
<g fill="none" stroke="#fff" stroke-width="1" stroke-linecap="round" opacity="0.85"><path d="M358 1028 L360 1027.5"/><path d="M373 1033 L373 1035"/><path d="M386 1034 L386 1036"/><path d="M396 1034 L396 1036"/><path d="M407 1032 L409 1032"/><path d="M429 1036 L428 1038"/><path d="M434 1032.5 L436 1033.5"/><path d="M449 1035.5 L451 1035.5"/><path d="M364 1043 L363 1044.5"/><path d="M418 1038 L418 1040"/><path d="M437 1046 L437 1047.5"/><path d="M447 1046 L447 1048"/></g>
<g fill="#111"><ellipse cx="374" cy="1020.5" rx="1.4" ry="2.1"/><ellipse cx="401.5" cy="1023.5" rx="1.5" ry="1.9"/><ellipse cx="449.3" cy="1026.7" rx="1.5" ry="2"/><ellipse cx="344" cy="1030.5" rx="1.9" ry="1.3"/><ellipse cx="365.3" cy="1051.3" rx="1.3" ry="2"/><ellipse cx="387.8" cy="1052" rx="1.3" ry="1.9"/><ellipse cx="419.3" cy="1053.7" rx="1.4" ry="2"/><ellipse cx="471.5" cy="1047.5" rx="1.6" ry="2.1"/></g>
<path d="M468.5 1043.5 L470.5 1044.5" stroke="#111" stroke-width="1.3" stroke-linecap="round"/>
</svg>
</body></html>
